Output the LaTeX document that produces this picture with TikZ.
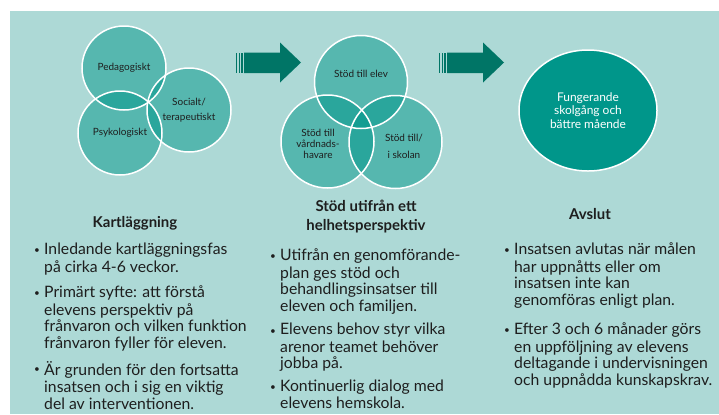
\documentclass[tikz,border=0pt]{standalone}
\usepackage{fontspec}
\setmainfont{Lato}
\usetikzlibrary{shapes.geometric}

\definecolor{bgteal}{RGB}{173,217,214}
\definecolor{circteal}{RGB}{0,150,138}
\definecolor{arrowteal}{RGB}{0,117,102}
\definecolor{inktext}{RGB}{30,30,30}

\newcommand{\punkt}{\strut\raisebox{0.8bp}{\fontsize{10}{10}\selectfont•}}

\tikzset{
  venn/.style={circle, minimum size=#1, inner sep=0pt, fill=circteal, fill opacity=0.5, text opacity=1},
  rim/.style={draw=white, line width=1.5bp},
  small/.style={inner sep=0pt, align=center, text=inktext, font=\fontsize{10}{#1}\selectfont},
  head/.style={inner sep=0pt, align=center, text=inktext, font=\bfseries\fontsize{15}{19}\selectfont},
  body/.style={anchor=north west, inner sep=0pt, align=left, text=inktext, font=\fontsize{15.8}{16.5}\selectfont},
}

\begin{document}
\begin{tikzpicture}[x=1bp, y=-1bp]
\useasboundingbox (0,0) rectangle (719,414);
\fill[white] (0,0) rectangle (719,414);
\fill[bgteal] (10,11) rectangle (719,414);

% kartlaggning
\node[venn=84bp] (ped) at (124,68) {};
\node[venn=84bp] (soc) at (189,110) {};
\node[venn=84bp] (psy) at (120,133) {};
\draw[rim] (ped.center) circle[radius=42bp];
\draw[rim] (soc.center) circle[radius=42bp];
\draw[rim] (psy.center) circle[radius=42bp];
\node[small=14] (pedlbl) at (ped.center) {Pedagogiskt};
\node[small=14.5] (soclbl) at (soc.center) {Socialt/\\terapeutiskt};
\node[small=14] (psylbl) at (psy.center) {Psykologiskt};

% pil 1
\fill[arrowteal] (236,52.5) rectangle (237.3,73);
\fill[arrowteal] (238.7,52.5) rectangle (240,73);
\fill[arrowteal] (241.3,52.5) rectangle (242.7,73);
\fill[arrowteal] (244,52.5) -- (280,52.5) -- (280,42.5) -- (301,62.5) -- (280,82.5) -- (280,73) -- (244,73) -- cycle;

% stod
\node[venn=93bp] (elev) at (361,82) {};
\node[venn=93bp] (vard) at (327.5,141.5) {};
\node[venn=93bp] (skol) at (395.5,142) {};
\draw[rim] (elev.center) circle[radius=46.5bp];
\draw[rim] (vard.center) circle[radius=46.5bp];
\draw[rim] (skol.center) circle[radius=46.5bp];
\node[small=12] (elevlbl) at (361,74) {Stöd till elev};
\node[small=11] (vardlbl) at (318,144) {Stöd till\\vårdnads-\\havare};
\node[small=17] (skollbl) at (404,146) {Stöd till/\\i skolan};

% pil 2
\fill[arrowteal] (439,52.5) rectangle (440.3,73);
\fill[arrowteal] (441.7,52.5) rectangle (443,73);
\fill[arrowteal] (444.3,52.5) rectangle (445.7,73);
\fill[arrowteal] (447,52.5) -- (483,52.5) -- (483,42.5) -- (504,62.5) -- (483,82.5) -- (483,73) -- (447,73) -- cycle;

% avslut
\node[ellipse, minimum width=138bp, minimum height=121bp, inner sep=0pt, fill=circteal, rim, text=white, align=center, font=\fontsize{12}{13.5}\selectfont] (mal) at (588,110.5) {Fungerande\\skolgång och\\bättre mående};

% rubriker
\node[head] (h1) at (135,223) {Kartläggning};
\node[head] (h2) at (366,216.5) {Stöd utifrån ett\\helhetsperspektiv};
\node[head] (h3) at (590,214) {Avslut};

% punkter kolumn 1
\node[body] (b11d) at (34,242.6) {\punkt};
\node[body] (b11) at (44,242.6) {\strut Inledande kartläggningsfas\\på cirka 4-6 veckor.};
\node[body] (b12d) at (34,285.6) {\punkt};
\node[body] (b12) at (44,285.6) {\strut Primärt syfte: att förstå\\elevens perspektiv på\\frånvaron och vilken funktion\\frånvaron fyller för eleven.};
\node[body] (b13d) at (34,361.1) {\punkt};
\node[body] (b13) at (44,361.1) {\strut Är grunden för den fortsatta\\insatsen och i sig en viktig\\del av interventionen.};

% punkter kolumn 2
\node[body] (b21d) at (270,248.6) {\punkt};
\node[body] (b21) at (280,248.6) {\strut Utifrån en genomförande-\\plan ges stöd och\\behandlingsinsatser till\\eleven och familjen.};
\node[body] (b22d) at (270,323.1) {\punkt};
\node[body] (b22) at (280,323.1) {\strut Elevens behov styr vilka\\arenor teamet behöver\\jobba på.};
\node[body] (b23d) at (270,379.6) {\punkt};
\node[body] (b23) at (280,379.6) {\strut Kontinuerlig dialog med\\elevens hemskola.};

% punkter kolumn 3
\node[body] (b31d) at (504,242.6) {\punkt};
\node[body] (b31) at (514,242.6) {\strut Insatsen avlutas när målen\\har uppnåtts eller om\\insatsen inte kan\\genomföras enligt plan.};
\node[body] (b32d) at (504,322.6) {\punkt};
\node[body] (b32) at (514,322.6) {\strut Efter 3 och 6 månader görs\\en uppföljning av elevens\\deltagande i undervisningen\\och uppnådda kunskapskrav.};
\end{tikzpicture}
\end{document}
